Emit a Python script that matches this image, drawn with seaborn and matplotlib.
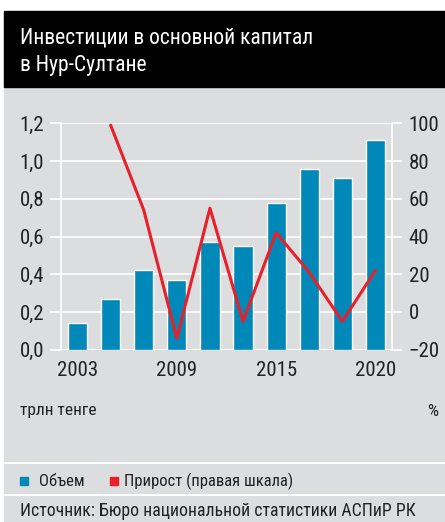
import numpy as np
import pandas as pd
import matplotlib
matplotlib.use("Agg")
import matplotlib.pyplot as plt
import seaborn as sns
from matplotlib import font_manager

# data
years = ["2003", "2005", "2007", "2009", "2011", "2013", "2015", "2017", "2019", "2020"]
tick_labels = ["2003", "", "", "2009", "", "", "2015", "", "", "2020"]
volume = [0.14, 0.27, 0.42, 0.37, 0.57, 0.55, 0.78, 0.96, 0.91, 1.11]
growth = [np.nan, 99, 54, -14, 55, -5, 42, 21, -5, 22]

df = pd.DataFrame({"year": years, "volume": volume, "growth": growth})

sns.set_style("white")
names = {f.name for f in font_manager.fontManager.ttflist}
main_font = "Roboto"
for cand in ["Roboto Condensed", "Liberation Sans Narrow", "Open Sans Condensed", "Roboto"]:
    if cand in names:
        main_font = cand
        break
plt.rcParams["font.family"] = [main_font, "DejaVu Sans"]

BG = "#dcdddf"
BLUE = "#0088b8"
RED = "#e8202a"
TXT = "#222222"

fig = plt.figure(figsize=(4.45, 5.22), dpi=100)
fig.patch.set_facecolor("white")

W, H = 445, 522
def fx(px):
    return px / W
def fy(py):
    return 1 - py / H

# panel background and title bar
fig.patches.append(plt.Rectangle((fx(4), 0), 1, fy(87), transform=fig.transFigure,
                                 color=BG, zorder=-5))
fig.patches.append(plt.Rectangle((fx(4), fy(87)), 1, (87 - 11) / H, transform=fig.transFigure,
                                 color="black", zorder=-5))
fig.text(fx(20), fy(38), "Инвестиции в основной капитал", color="white", fontsize=15.5,
         va="center", ha="left")
fig.text(fx(20), fy(66), "в Нур-Султане", color="white", fontsize=15.5, va="center", ha="left")

ax = fig.add_axes([fx(61), fy(349.7), fx(392) - fx(61), (349.7 - 123.3) / H])
ax.set_facecolor("none")
sns.barplot(data=df, x="year", y="volume", color=BLUE, width=0.58, saturation=1, ax=ax, zorder=3)
ax.set_xlim(-0.5, 9.5)
ax.set_ylim(0, 1.2)
ax.set_yticks(np.arange(0, 1.21, 0.2))
ax.set_yticklabels([f"{v:.1f}".replace(".", ",") for v in np.arange(0, 1.21, 0.2)])
ax.set_xticks(np.arange(-0.5, 10, 1))
ax.set_xticklabels([])
ax.set_xticks(range(len(years)), minor=True)
ax.set_xticklabels(tick_labels, minor=True)
ax.tick_params(axis="x", which="major", length=7, color="white", width=1.2)
ax.tick_params(axis="x", which="minor", length=0, pad=8, labelsize=15, labelcolor=TXT)
ax.tick_params(axis="y", length=8, color="white", width=1.2, labelsize=15, labelcolor=TXT, pad=4)
ax.grid(axis="y", color="white", lw=1.2, zorder=1)
ax.set_axisbelow(True)
ax.set_xlabel("")
ax.set_ylabel("")
for s in ["top", "bottom"]:
    ax.spines[s].set_visible(False)
for s in ["left", "right"]:
    ax.spines[s].set_color("white")
    ax.spines[s].set_linewidth(1.2)

ax2 = ax.twinx()
sns.lineplot(data=df, x="year", y="growth", color=RED, lw=2.2, ax=ax2, zorder=4)
ax2.set_ylim(-20, 100)
ax2.set_yticks(range(-20, 101, 20))
ax2.tick_params(axis="y", length=7, color="white", width=1.2, labelsize=15, labelcolor=TXT, pad=5)
ax2.set_ylabel("")
ax2.set_xlabel("")
for s in ax2.spines.values():
    s.set_visible(False)

fig.text(fx(20), fy(411), "трлн тенге", fontsize=12.5, color=TXT, va="center")
fig.text(fx(438), fy(411), "%", fontsize=12.5, color=TXT, va="center", ha="right")

# separators
fig.lines.append(plt.Line2D([fx(4), 1], [fy(463), fy(463)], transform=fig.transFigure,
                            color="white", lw=1.5))
fig.lines.append(plt.Line2D([fx(4), 1], [fy(495), fy(495)], transform=fig.transFigure,
                            color="white", lw=1.5))

# legend
fig.patches.append(plt.Rectangle((fx(20), fy(485)), 8 / W, 8 / H, transform=fig.transFigure,
                                 color=BLUE))
fig.text(fx(39), fy(481), "Объем", fontsize=12, color=TXT, va="center")
fig.patches.append(plt.Rectangle((fx(110), fy(485)), 8 / W, 8 / H, transform=fig.transFigure,
                                 color=RED))
fig.text(fx(124), fy(481), "Прирост (правая шкала)", fontsize=12, color=TXT, va="center")

fig.text(fx(20), fy(511), "Источник: Бюро национальной статистики АСПиР РК", fontsize=12.8,
         color=TXT, va="center")

fig.savefig("out.png", dpi=100, facecolor=fig.get_facecolor())
